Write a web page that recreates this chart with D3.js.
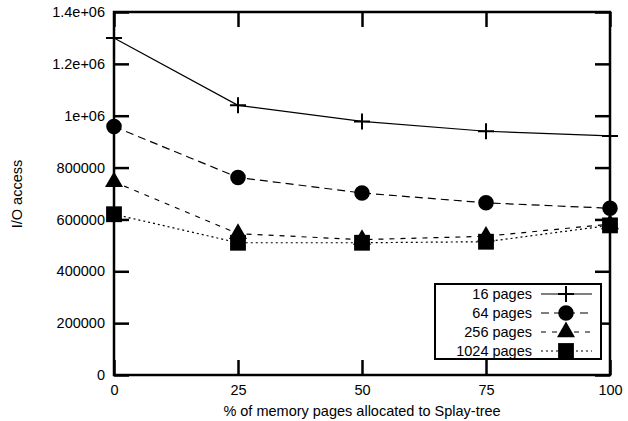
<!DOCTYPE html>
<html>
<head>
<meta charset="utf-8">
<script src="https://cdn.jsdelivr.net/npm/d3@7"></script>
<style>
  body { margin: 0; background: #fff; }
  text { font-family: "Liberation Sans", Arial, Helvetica, sans-serif; }
</style>
</head>
<body>
<svg width="628" height="421"></svg>
<script>
var svg = d3.select("svg");

// data
var xValues = [0, 25, 50, 75, 100];
var seriesNames = ["16 pages", "64 pages", "256 pages", "1024 pages"];
var pages16 = [1300000, 1040000, 978000, 940000, 922000];
var pages64 = [958000, 762000, 702000, 664000, 643000];
var pages256 = [745000, 545000, 522000, 535000, 582000];
var pages1024 = [620000, 510000, 510000, 514000, 577000];
var yTicks = [0, 200000, 400000, 600000, 800000, 1000000, 1200000, 1400000];
var yTickLabels = ["0", "200000", "400000", "600000", "800000", "1e+06", "1.2e+06", "1.4e+06"];

var series = [pages16, pages64, pages256, pages1024];
var dashes = ["none", "8,5", "5,6", "2,3"];
var symbols = [d3.symbolCross, d3.symbolCircle, d3.symbolTriangle, d3.symbolSquare];

var plotLeft = 114, plotRight = 610, plotTop = 12, plotBottom = 375;
var fontSize = "14.5px";

var x = d3.scaleLinear().domain([0, 100]).range([plotLeft, plotRight]);
var y = d3.scaleLinear().domain([0, 1400000]).range([plotBottom, plotTop]);

// frame
svg.append("rect")
  .attr("x", plotLeft).attr("y", plotTop)
  .attr("width", plotRight - plotLeft).attr("height", plotBottom - plotTop)
  .attr("fill", "none").attr("stroke", "#000").attr("stroke-width", 2.5);

function styleAxis(g, labels) {
  g.select(".domain").remove();
  g.selectAll(".tick line").attr("stroke", "#000").attr("stroke-width", 2.5);
  g.selectAll(".tick text").attr("fill", "#000").style("font-size", fontSize);
  if (!labels) g.selectAll(".tick text").remove();
}

var yLabel = function (d) { return yTickLabels[yTicks.indexOf(d)]; };

svg.append("g").attr("transform", "translate(" + plotLeft + ",0)")
  .call(d3.axisLeft(y).tickValues(yTicks).tickFormat(yLabel).tickSize(-15).tickPadding(9))
  .call(styleAxis, true);
svg.append("g").attr("transform", "translate(" + plotRight + ",0)")
  .call(d3.axisRight(y).tickValues(yTicks).tickSize(-15))
  .call(styleAxis, false);
svg.append("g").attr("transform", "translate(0," + plotBottom + ")")
  .call(d3.axisBottom(x).tickValues(xValues).tickFormat(d3.format("d")).tickSize(-15).tickPadding(10))
  .call(styleAxis, true);
svg.append("g").attr("transform", "translate(0," + plotTop + ")")
  .call(d3.axisTop(x).tickValues(xValues).tickSize(-15))
  .call(styleAxis, false);

// axis titles
svg.append("text")
  .attr("transform", "translate(22,194) rotate(-90)")
  .style("text-anchor", "middle").style("font-size", fontSize)
  .text("I/O access");
svg.append("text")
  .attr("x", (plotLeft + plotRight) / 2).attr("y", 416)
  .style("text-anchor", "middle").style("font-size", fontSize)
  .text("% of memory pages allocated to Splay-tree");

var line = d3.line()
  .x(function (d, i) { return x(xValues[i]); })
  .y(function (d) { return y(d); });

function marker(g, k, cx, cy) {
  var sizes = [180, 190, 140, 250];
  var p = g.append("path")
    .attr("transform", "translate(" + cx + "," + cy + ")");
  if (k === 0) {
    // plain "+" made of two strokes
    p.attr("d", "M-8,0H8M0,-8V8").attr("fill", "none").attr("stroke", "#000").attr("stroke-width", 2);
  } else {
    p.attr("d", d3.symbol().type(symbols[k]).size(sizes[k])()).attr("fill", "#000");
  }
}

series.forEach(function (vals, k) {
  svg.append("path")
    .datum(vals)
    .attr("d", line)
    .attr("fill", "none")
    .attr("stroke", "#000")
    .attr("stroke-width", 1.2)
    .attr("stroke-dasharray", dashes[k]);
  vals.forEach(function (v, i) {
    marker(svg, k, x(xValues[i]), y(v));
  });
});

// legend
var legend = svg.append("g");
legend.append("rect")
  .attr("x", 435).attr("y", 284).attr("width", 166).attr("height", 75)
  .attr("fill", "#fff").attr("stroke", "#000").attr("stroke-width", 2);
seriesNames.forEach(function (name, k) {
  var ly = 294 + k * 19;
  legend.append("text")
    .attr("x", 532).attr("y", ly).attr("dy", "0.35em")
    .style("text-anchor", "end").style("font-size", fontSize)
    .text(name);
  legend.append("line")
    .attr("x1", 541).attr("x2", 592).attr("y1", ly).attr("y2", ly)
    .attr("stroke", "#000").attr("stroke-width", 1.2)
    .attr("stroke-dasharray", dashes[k]);
  marker(legend, k, 566, ly);
});
</script>
</body>
</html>
